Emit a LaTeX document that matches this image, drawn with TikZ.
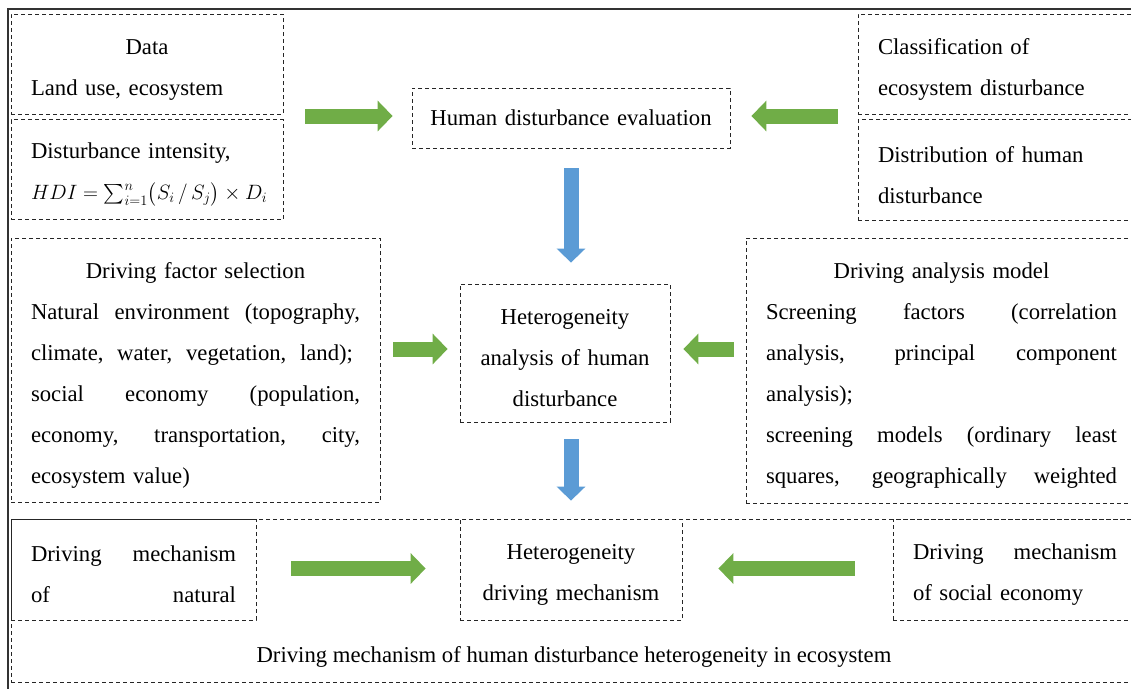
\documentclass[tikz,border=0pt]{standalone}
\usepackage{amsmath,amssymb}
\usepackage{fontspec}
\setmainfont{Liberation Serif}
\usetikzlibrary{arrows.meta,positioning,calc}

\definecolor{arrowgreen}{HTML}{70AD47}
\definecolor{arrowblue}{HTML}{5B9BD5}
% #1 = line width of the box text, #2 = the line
\newcommand{\jline}[2]{\makebox[#1][s]{\spaceskip=0pt\xspaceskip=0pt\relax #2}}
\newcommand{\ctrline}[2]{\makebox[#1][c]{#2}}

\begin{document}
\begin{tikzpicture}[
        x=1pt, y=-1pt,
        every node/.style={font=\fontsize{22.7}{41}\selectfont},
        dbox/.style={rectangle, draw=black!85, line width=0.8pt, dash pattern=on 4pt off 3pt,
                     inner xsep=20pt, inner ysep=0pt, align=left},
        cbox/.style={dbox, align=center},
        lowtext/.style={execute at begin node={\rule{0pt}{26pt}}},
        garrow/.style={arrowgreen, line width=15pt, -{Triangle[width=30pt, length=15pt]}},
        barrow/.style={arrowblue, line width=15pt, -{Triangle[width=28pt, length=14pt]}},
    ]
        \useasboundingbox (0,0) rectangle (1131,688);
        \clip (0,0) rectangle (1131,688);

        % Outer frame
        \draw[black!80, line width=1.5pt] (8,9) rectangle (1150,700);

        % Row 1: inputs and evaluation
        \node[dbox, lowtext, text width=232pt, minimum height=100pt] (data) at (147,64)
            {\ctrline{232pt}{Data}\\Land use, ecosystem};
        \node[dbox, lowtext, text width=232pt, minimum height=100pt, below=5pt of data] (dist)
            {Disturbance intensity,\\\mbox{\fontsize{19.6}{41}\selectfont$HDI = \sum_{i=1}^{n}\bigl(S_i\,/\,S_j\bigr)\times D_i$}};
        \node[cbox, inner xsep=10pt, text width=298pt, minimum height=60pt] (eval) at (571,118)
            {Human disturbance evaluation};
        \node[dbox, lowtext, text width=239pt, minimum height=100pt] (class) at (997.5,64)
            {Classification of\\ecosystem disturbance};
        \node[dbox, lowtext, text width=239pt, minimum height=101pt, below=5pt of class] (distr)
            {Distribution of human\\disturbance};

        % Row 2: driving factors and models
        \node[dbox, lowtext, text width=329pt, minimum height=264pt] (factor) at (195.5,370)
            {\ctrline{329pt}{Driving factor selection}\\
             \jline{329pt}{Natural environment (topography,}\\
             \jline{322pt}{climate, water, vegetation, land);}\\
             \jline{329pt}{social economy (population,}\\
             \jline{329pt}{economy, transportation, city,}\\
             ecosystem value)};
        \node[cbox, lowtext, text width=170pt, minimum height=138pt] (het) at (565,353)
            {Heterogeneity\\analysis of human\\disturbance};
        \node[dbox, lowtext, text width=351pt, minimum height=265pt] (model) at (941.5,370.5)
            {\ctrline{351pt}{Driving analysis model}\\
             \jline{351pt}{Screening factors (correlation}\\
             \jline{351pt}{analysis, principal component}\\
             analysis);\\
             \jline{351pt}{screening models (ordinary least}\\
             \jline{351pt}{squares, geographically weighted}};

        % Row 3: driving mechanism
        \node[dbox, minimum width=1126pt, minimum height=163pt] (mech) at (574,600.5) {};
        \node[dbox, lowtext, text width=205pt, minimum height=101pt] (nat) at (133.5,569.5)
            {\jline{205pt}{Driving mechanism}\\\jline{205pt}{of natural}};
        \node[cbox, lowtext, text width=182pt, minimum height=101pt] (mechc) at (571,569.5)
            {Heterogeneity\\driving mechanism};
        \node[dbox, lowtext, text width=204pt, minimum height=101pt] (social) at (1015,569.5)
            {\jline{204pt}{Driving mechanism}\\of social economy};
        \node (mechlbl) at (574,657)
            {Driving mechanism of human disturbance heterogeneity in ecosystem};

        % Row 1 arrows
        \draw[garrow, shorten <=22pt, shorten >=19pt] ([yshift=2pt]eval.west -| dist.east) -- ([yshift=2pt]eval.west);
        \draw[garrow, shorten <=20pt, shorten >=21pt] ([yshift=2pt]eval.east -| class.west) -- ([yshift=2pt]eval.east);

        % Evaluation down to heterogeneity analysis
        \draw[barrow, shorten <=20pt, shorten >=21pt] (eval.south) -- (eval.south |- het.north);

        % Row 2 arrows
        \draw[garrow, shorten <=13pt, shorten >=12pt] ([yshift=4pt]het.west -| factor.east) -- ([yshift=4pt]het.west);
        \draw[garrow, shorten <=12pt, shorten >=13pt] ([yshift=4pt]het.east -| model.west) -- ([yshift=4pt]het.east);

        % Heterogeneity analysis down to mechanism
        \draw[barrow, shorten <=17pt, shorten >=18pt] (eval.south |- het.south) -- (eval.south |- mech.north);

        % Row 3 arrows
        \draw[garrow, shorten <=35pt, shorten >=34pt] ([yshift=1pt]mechc.west -| nat.east) -- ([yshift=1pt]mechc.west);
        \draw[garrow, shorten <=38pt, shorten >=36pt] ([yshift=1pt]mechc.east -| social.west) -- ([yshift=1pt]mechc.east);

    \end{tikzpicture}
\end{document}
